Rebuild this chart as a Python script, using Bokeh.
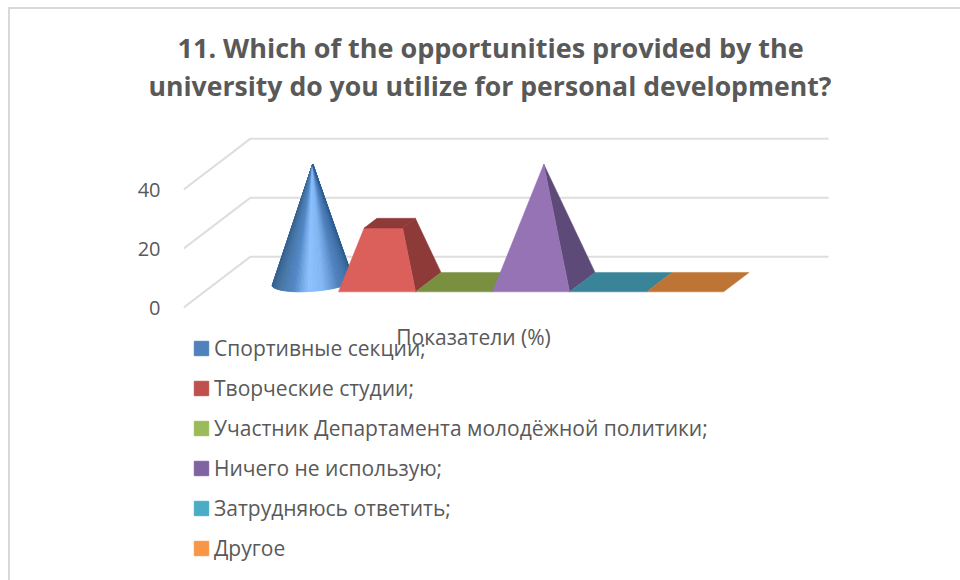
import math
from bokeh.embed import file_html
from bokeh.resources import INLINE
from bokeh.plotting import figure
from bokeh.core.properties import value
from bokeh.models import (ColumnDataSource, FixedTicker, Legend, LegendItem,
                          Range1d, Title, InlineStyleSheet)

TITLE_LINES = ["11. Which of the opportunities provided by the",
               "university do you utilize for personal development?"]
CATEGORY = "Показатели (%)"
SERIES = ["Спортивные секции;", "Творческие студии;",
          "Участник Департамента молодёжной политики;", "Ничего не использую;",
          "Затрудняюсь ответить;", "Другое"]
VALUES = [40, 20, 0, 40, 0, 0]
Y_TICKS = [0, 20, 40]
Y_MAX = 40
LEGEND_COLORS = ["#4F81BD", "#C0504D", "#9BBB59", "#8064A2", "#4BACC6", "#F79646"]
FRONT_COLORS = [None, "#DB5F5B", "#7A9041", "#9573B5", "#3A8499", "#BD7434"]
SIDE_COLORS = [None, "#8E3A38", "#7A9041", "#5E4A78", "#3A8499", "#BD7434"]
GRAD = [(0.0, "#2E5C8E"), (0.18, "#44719F"), (0.35, "#5288C6"), (0.47, "#8CC1FF"),
        (0.58, "#82B6F2"), (0.72, "#4F81BD"), (1.0, "#2E5C8E")]

TEXT = "#595959"
FONT = "Open Sans"
GRID = "#DEDEDE"
# oblique projection of the 3-D box, in data units per unit of depth
DX = 67 / 77
DY = 51 / 2.95
WALL_LEFT, WALL_RIGHT = -1.026, 6.48
BAR_D, BAR_HALF_D = 0.5, 0.19
BAR_SHIFT = (BAR_D - BAR_HALF_D) * DX + 0.013  # bars stand this far into the box


def px(x, d):
    return x + d * DX


def py(v, d):
    return v + d * DY


def mix(t):
    for (a, ca), (b, cb) in zip(GRAD, GRAD[1:]):
        if t <= b:
            f = (t - a) / (b - a)
            rgb = [round(int(ca[i:i + 2], 16) * (1 - f) + int(cb[i:i + 2], 16) * f) for i in (1, 3, 5)]
            return "#%02x%02x%02x" % tuple(rgb)
    return GRAD[-1][1]


p = figure(width=960, height=580, output_backend="svg", toolbar_location=None,
           x_range=Range1d(-1.026, 7.44), y_range=Range1d(-90.8, 69.2),
           min_border_left=183, min_border_right=125, min_border_top=103, min_border_bottom=5,
           outline_line_color=None, title=TITLE_LINES[0])
p.grid.visible = False
p.xaxis.visible = False
p.stylesheets = [InlineStyleSheet(css=":host::after{content:'';position:absolute;left:8px;top:7px;right:0;bottom:0;"
                                      "border-left:2px solid #D9D9D9;border-top:2px solid #D9D9D9;"
                                      "pointer-events:none;z-index:10}")]

t2 = Title(text=TITLE_LINES[1])
p.add_layout(t2, "above")
for t, off, size in ((p.title, -6, "27px"), (t2, -35, "26.6px")):
    t.align = "left"
    t.offset = off
    t.standoff = 0
    t.text_font = FONT
    t.text_font_size = size
    t.text_font_style = "bold"
    t.text_color = TEXT

p.yaxis.ticker = FixedTicker(ticks=Y_TICKS)
p.yaxis.axis_line_color = None
p.yaxis.major_tick_line_color = None
p.yaxis.minor_tick_line_color = None
p.yaxis.major_label_standoff = 17
p.yaxis.major_label_text_font = FONT
p.yaxis.major_label_text_font_size = "20px"
p.yaxis.major_label_text_color = TEXT

# walls: oblique gridline on the side wall, then along the back wall
for t in Y_TICKS:
    p.line([WALL_LEFT, px(WALL_LEFT, 1), px(WALL_RIGHT, 1)],
           [py(t, 0), py(t, 1), py(t, 1)], line_color=GRID, line_width=2)


def poly(pts, color):
    p.patch([q[0] for q in pts], [q[1] for q in pts], fill_color=color, line_color=color, line_width=0.5)


for i, (val, front, side) in enumerate(zip(VALUES, FRONT_COLORS, SIDE_COLORS)):
    cx, s = i + 0.5 - BAR_SHIFT, 1 - val / Y_MAX
    if i == 0:  # cone
        hx, hd = 0.5, BAR_HALF_D
        ax = DX * hd
        t0 = math.pi + math.atan2(ax, hx)
        t1 = 2 * math.pi + math.atan2(ax, hx)
        n = 80
        xs, ys, cols = [], [], []
        pts = []
        for k in range(n + 1):
            a = t0 + (t1 - t0) * k / n
            u, w = math.cos(a), math.sin(a)
            pts.append((px(cx + hx * u, BAR_D + hd * w), py(0, BAR_D + hd * w)))
        tip = (px(cx, BAR_D), py(val, BAR_D))
        for k in range(n):
            xs.append([tip[0], pts[k][0], pts[k + 1][0]])
            ys.append([tip[1], pts[k][1], pts[k + 1][1]])
            cols.append(mix((k + 0.5) / n))
        p.patches(xs="xs", ys="ys", fill_color="c", line_color="c", line_width=0.8,
                  source=ColumnDataSource(dict(xs=xs, ys=ys, c=cols)))
        continue

    def corner(su, sw, v):
        d = BAR_D + BAR_HALF_D * sw
        return (px(cx + 0.5 * su, d), py(v, d))

    fl, fr = corner(-1, -1, 0), corner(1, -1, 0)
    br = corner(1, 1, 0)
    tfl, tfr = corner(-s, -s, val), corner(s, -s, val)
    tbl, tbr = corner(-s, s, val), corner(s, s, val)
    if val > 0:
        poly([fr, br, tbr, tfr], side)
        poly([fl, fr, tfr, tfl], front)
        if s > 0:
            poly([tfl, tfr, tbr, tbl], side)
    else:
        poly([tfl, tfr, tbr, tbl], side)

# category label under the box
p.text(x=[2.74], y=[-10], text=[CATEGORY], text_font=value(FONT), text_font_size="21px",
       text_color=TEXT, text_align="center", text_baseline="middle")

# legend keys: proxy squares lying outside the visible x range, shown only in the legend
items = []
for name, col in zip(SERIES, LEGEND_COLORS):
    r = p.quad(left=[100], right=[101], top=[1], bottom=[0], fill_color=col, line_color=col)
    items.append(LegendItem(label=name, renderers=[r]))
legend = Legend(items=items, location=(9, 13), orientation="vertical", padding=0, margin=0,
                border_line_color=None, background_fill_alpha=0,
                glyph_width=18, glyph_height=18, label_standoff=4, spacing=12,
                label_text_font=FONT, label_text_font_size="21px", label_text_color=TEXT)
p.add_layout(legend, "center")

open("out.html", "w").write(file_html(p, INLINE))
